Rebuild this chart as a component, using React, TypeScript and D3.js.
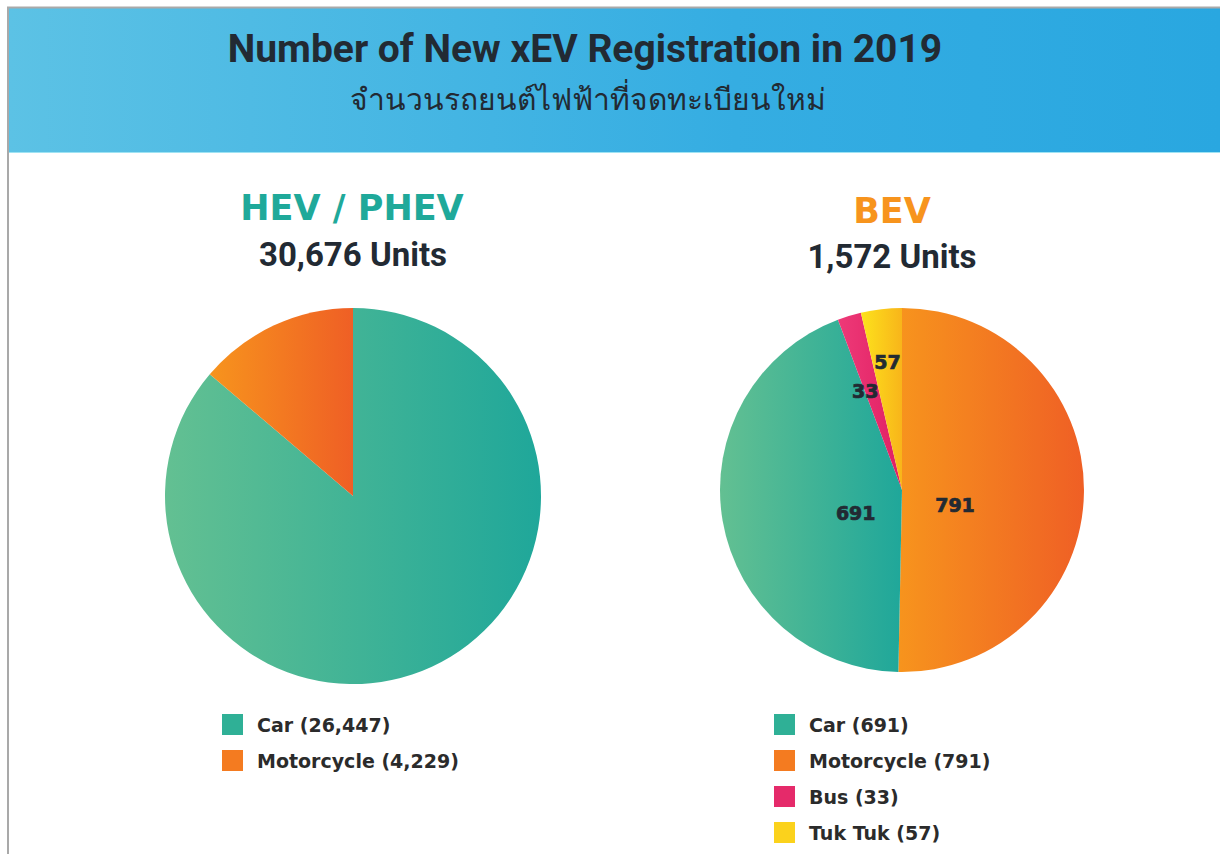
import React from 'react'
import * as d3 from 'd3'

const W = 1220
const H = 854

// HEV / PHEV
const hevCategories = ['Car', 'Motorcycle']
const hevValues = [26447, 4229]
const hevTotal = '30,676'

// BEV (slice order clockwise from 12 o'clock)
const bevCategories = ['Motorcycle', 'Car', 'Bus', 'Tuk Tuk']
const bevValues = [791, 691, 33, 57]
const bevTotal = '1,572'
const bevLegendOrder = ['Car', 'Motorcycle', 'Bus', 'Tuk Tuk']

const gradients: Record<string, [string, string]> = {
  Car: ['#63c092', '#1fa79a'],
  Motorcycle: ['#f7941d', '#ef5f25'],
  Bus: ['#ee3a78', '#e01f63'],
  'Tuk Tuk': ['#fde21c', '#f8b51a']
}
const swatch: Record<string, string> = {
  Car: '#2fb096',
  Motorcycle: '#f47b20',
  Bus: '#e52a6a',
  'Tuk Tuk': '#fbd21c'
}

const FONT = 'Roboto, "DejaVu Sans", sans-serif'
const WIDE = '"DejaVu Sans", sans-serif'
const DARK = '#222a33'

const fmt = d3.format(',')

type Datum = { cat: string; value: number }

type PieProps = {
  id: string
  cx: number
  cy: number
  r: number
  cats: string[]
  vals: number[]
  labels?: boolean
}

// where a slice label sits: distance from the centre and a small nudge
const labelPlace = (v: number, total: number) => {
  const share = v / total
  if (share > 0.3) return { r: 50, dx: 3, dy: 15 }
  if (share > 0.03) return { r: 128, dx: 0, dy: 0 }
  return { r: 106, dx: -6, dy: 3 }
}

const Pie = ({ id, cx, cy, r, cats, vals, labels }: PieProps) => {
  const data: Datum[] = cats.map((c, i) => ({ cat: c, value: vals[i] }))
  const pie = d3.pie<Datum>().sort(null).value(d => d.value)
  const arcs = pie(data)
  const arc = d3.arc<d3.PieArcDatum<Datum>>().innerRadius(0).outerRadius(r)
  const total = d3.sum(vals)
  return (
    <g transform={`translate(${cx},${cy})`}>
      <defs>
        {arcs.map(a => (
          <linearGradient key={a.data.cat} id={`${id}-${a.index}`} x1="0" x2="1" y1="0" y2="0">
            <stop offset="0" stopColor={gradients[a.data.cat][0]} />
            <stop offset="1" stopColor={gradients[a.data.cat][1]} />
          </linearGradient>
        ))}
      </defs>
      {arcs.map(a => (
        <path key={a.data.cat} d={arc(a) || ''} fill={`url(#${id}-${a.index})`} />
      ))}
      {labels &&
        arcs.map(a => {
          const mid = (a.startAngle + a.endAngle) / 2
          const p = labelPlace(a.data.value, total)
          return (
            <text
              key={'l' + a.data.cat}
              x={Math.sin(mid) * p.r + p.dx}
              y={-Math.cos(mid) * p.r + p.dy}
              dy="0.35em"
              textAnchor="middle"
              fontFamily={WIDE}
              fontWeight={700}
              fontSize={19}
              fill={DARK}
              stroke={DARK}
              strokeWidth={0.7}
            >
              {a.data.value}
            </text>
          )
        })}
    </g>
  )
}

const Legend = ({ x, y, cats, vals }: { x: number; y: number; cats: string[]; vals: Record<string, number> }) => (
  <g transform={`translate(${x},${y})`}>
    {cats.map((c, i) => (
      <g key={c} transform={`translate(0,${i * 36})`}>
        <rect x={0} y={0} width={21} height={21} fill={swatch[c]} />
        <text x={35} y={18} fontFamily={WIDE} fontWeight={700} fontSize={19} fill="#2b2b2b">
          {`${c} (${fmt(vals[c])})`}
        </text>
      </g>
    ))}
  </g>
)

const App = () => {
  const hevMap: Record<string, number> = {}
  hevCategories.forEach((c, i) => (hevMap[c] = hevValues[i]))
  const bevMap: Record<string, number> = {}
  bevCategories.forEach((c, i) => (bevMap[c] = bevValues[i]))

  return (
    <svg width={W} height={H} style={{ position: 'absolute', left: 0, top: 0 }}>
      <defs>
        <linearGradient id="banner" x1="0" x2="1" y1="0" y2="0">
          <stop offset="0" stopColor="#5cc2e5" />
          <stop offset="0.6" stopColor="#35ade2" />
          <stop offset="1" stopColor="#29a7e0" />
        </linearGradient>
      </defs>
      <rect x={0} y={0} width={W} height={H} fill="#ffffff" />
      <rect x={8} y={8} width={W - 8} height={144} fill="url(#banner)" />
      <line x1={8} x2={W} y1={152.5} y2={152.5} stroke="#9fe3f3" strokeWidth={1} />
      <line x1={7} x2={W} y1={7.5} y2={7.5} stroke="#a9a9a9" strokeWidth={2} />
      <line x1={8} x2={8} y1={7} y2={H} stroke="#a9a9a9" strokeWidth={2} />

      <text x={585} y={62} textAnchor="middle" fontFamily={FONT} fontWeight={700} fontSize={39} fill={DARK}>
        Number of New xEV Registration in 2019
      </text>
      <text x={588} y={110} textAnchor="middle" fontFamily={FONT} fontWeight={500} fontSize={30} fill={DARK}>
        จำนวนรถยนต์ไฟฟ้าที่จดทะเบียนใหม่
      </text>

      <text x={352} y={220} textAnchor="middle" fontFamily={WIDE} fontWeight={700} fontSize={35} fill="#1fa99a">
        HEV / PHEV
      </text>
      <text x={353} y={266} textAnchor="middle" fontFamily={FONT} fontWeight={700} fontSize={33} fill={DARK}>
        {`${hevTotal} Units`}
      </text>
      <text x={892} y={223} textAnchor="middle" fontFamily={WIDE} fontWeight={700} fontSize={35} fill="#f7941d">
        BEV
      </text>
      <text x={892} y={268} textAnchor="middle" fontFamily={FONT} fontWeight={700} fontSize={33} fill={DARK}>
        {`${bevTotal} Units`}
      </text>

      <Pie id="hev" cx={353} cy={496} r={188} cats={hevCategories} vals={hevValues} />
      <Pie id="bev" cx={902} cy={490} r={182} cats={bevCategories} vals={bevValues} labels />

      <Legend x={222} y={714} cats={hevCategories} vals={hevMap} />
      <Legend x={774} y={714} cats={bevLegendOrder} vals={bevMap} />
    </svg>
  )
}

export default App
